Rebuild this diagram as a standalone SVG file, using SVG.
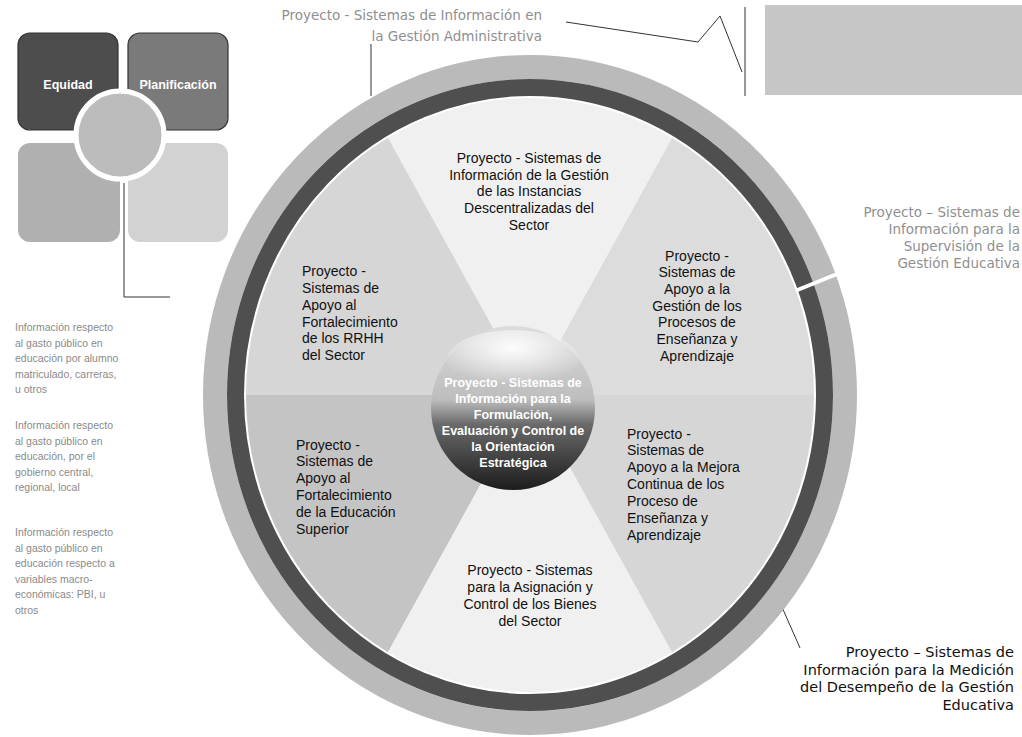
<svg xmlns="http://www.w3.org/2000/svg" width="1022" height="737" viewBox="0 0 1022 737">
<defs>
<style>
.t{font-family:"Liberation Sans",Arial,sans-serif;font-size:14px;fill:#111}
.b{font-family:"DejaVu Sans",Verdana,sans-serif;font-size:14.5px;fill:#111}
.g{font-family:"Liberation Sans",Arial,sans-serif;font-size:10.5px;fill:#8a8a8a}
.gr{font-family:"DejaVu Sans",Verdana,sans-serif;font-size:13.5px;fill:#8f8f8f}
.w{font-family:"Liberation Sans",Arial,sans-serif;font-size:12.5px;font-weight:bold;fill:#fff}
.bx{stroke:#333;stroke-width:1.2}
.ln{stroke:#333;stroke-width:1;fill:none}
</style>
<linearGradient id="sph" x1="0" y1="0" x2="0" y2="1">
<stop offset="0" stop-color="#dcdcdc"/>
<stop offset="0.45" stop-color="#bdbdbd"/>
<stop offset="0.6" stop-color="#6a6a6a"/>
<stop offset="1" stop-color="#1c1c1c"/>
</linearGradient>
<radialGradient id="hl" cx="0.5" cy="0.3" r="0.6">
<stop offset="0" stop-color="#ffffff" stop-opacity="0.95"/>
<stop offset="1" stop-color="#ffffff" stop-opacity="0"/>
</radialGradient>
</defs>
<rect width="1022" height="737" fill="#ffffff"/>

<g id="connectors">
<polyline class="ln" points="566,22 698,42 720,16 742,72"/>
<line class="ln" x1="745" y1="7" x2="745" y2="96"/>
<line class="ln" x1="371" y1="44" x2="371" y2="96"/>
<polyline class="ln" points="124,183 124,297 170,297"/>
<line class="ln" x1="800" y1="648" x2="778" y2="598"/>
</g>

<g id="legend-box">
<rect x="765" y="5" width="257" height="90" fill="#c6c6c6"/>
</g>

<g id="quad">
<rect class="bx" x="18" y="33" width="100" height="97" rx="12" fill="#4d4d4d"/>
<rect class="bx" x="128" y="33" width="100" height="97" rx="12" fill="#7a7a7a"/>
<rect x="18" y="143" width="102" height="99" rx="12" fill="#b0b0b0"/>
<rect x="128" y="143" width="100" height="99" rx="12" fill="#d2d2d2"/>
<circle cx="120" cy="135" r="44" fill="#bcbcbc" stroke="#ffffff" stroke-width="5"/>
<text class="w" x="68" y="89" text-anchor="middle" font-size="13">Equidad</text>
<text class="w" x="178" y="89" text-anchor="middle" font-size="13">Planificación</text>
</g>

<g id="left-notes">
<text class="g" x="15" y="331">Información respecto</text>
<text class="g" x="15" y="346.5">al gasto público en</text>
<text class="g" x="15" y="362">educación por alumno</text>
<text class="g" x="15" y="377.5">matriculado, carreras,</text>
<text class="g" x="15" y="393">u otros</text>
<text class="g" x="15" y="429">Información respecto</text>
<text class="g" x="15" y="444.5">al gasto público en</text>
<text class="g" x="15" y="460">educación, por el</text>
<text class="g" x="15" y="475.5">gobierno central,</text>
<text class="g" x="15" y="491">regional, local</text>
<text class="g" x="15" y="536">Información respecto</text>
<text class="g" x="15" y="551.5">al gasto público en</text>
<text class="g" x="15" y="567">educación respecto a</text>
<text class="g" x="15" y="582.5">variables macro-</text>
<text class="g" x="15" y="598">económicas: PBI, u</text>
<text class="g" x="15" y="613.5">otros</text>
</g>

<g id="top-label">
<text class="gr" x="542" y="20" text-anchor="end">Proyecto - Sistemas de Información en</text>
<text class="gr" x="542" y="41" text-anchor="end">la Gestión Administrativa</text>
</g>

<g id="right-label">
<text class="gr" x="1020" y="217" text-anchor="end">Proyecto – Sistemas de</text>
<text class="gr" x="1020" y="234" text-anchor="end">Información para la</text>
<text class="gr" x="1020" y="251" text-anchor="end">Supervisión de la</text>
<text class="gr" x="1020" y="268" text-anchor="end">Gestión Educativa</text>
</g>

<g id="rings">
<ellipse cx="530" cy="395" rx="315" ry="328" fill="none" stroke="#bababa" stroke-width="24"/>
<ellipse cx="530" cy="395" rx="294.5" ry="307.5" fill="none" stroke="#4f4f4f" stroke-width="17"/>
<line x1="790" y1="293" x2="842" y2="272" stroke="#ffffff" stroke-width="4"/>
</g>

<g id="wedges">
<path id="w-procesos" d="M530,395 L814,395 A284,297 0 0 0 672,137.8 Z" fill="#dcdcdc"/>
<path id="w-instancias" d="M530,395 L672,137.8 A284,297 0 0 0 388,137.8 Z" fill="#f0f0f0"/>
<path id="w-rrhh" d="M530,395 L388,137.8 A284,297 0 0 0 246,395 Z" fill="#d6d6d6"/>
<path id="w-superior" d="M530,395 L246,395 A284,297 0 0 0 388,652.2 Z" fill="#c4c4c4"/>
<path id="w-bienes" d="M530,395 L388,652.2 A284,297 0 0 0 672,652.2 Z" fill="#f0f0f0"/>
<path id="w-mejora" d="M530,395 L672,652.2 A284,297 0 0 0 814,395 Z" fill="#d6d6d6"/>
</g>

<g id="node-instancias">
<text class="t" x="529" y="163" text-anchor="middle">Proyecto - Sistemas de</text>
<text class="t" x="529" y="180" text-anchor="middle">Información de la Gestión</text>
<text class="t" x="529" y="196" text-anchor="middle">de las Instancias</text>
<text class="t" x="529" y="213" text-anchor="middle">Descentralizadas del</text>
<text class="t" x="529" y="230" text-anchor="middle">Sector</text>
</g>

<g id="node-rrhh">
<text class="t" x="302" y="276">Proyecto -</text>
<text class="t" x="302" y="293">Sistemas de</text>
<text class="t" x="302" y="310">Apoyo al</text>
<text class="t" x="302" y="327">Fortalecimiento</text>
<text class="t" x="302" y="343">de los RRHH</text>
<text class="t" x="302" y="360">del Sector</text>
</g>

<g id="node-procesos">
<text class="t" x="697" y="261" text-anchor="middle">Proyecto -</text>
<text class="t" x="697" y="277" text-anchor="middle">Sistemas de</text>
<text class="t" x="697" y="294" text-anchor="middle">Apoyo a la</text>
<text class="t" x="697" y="311" text-anchor="middle">Gestión de los</text>
<text class="t" x="697" y="327" text-anchor="middle">Procesos de</text>
<text class="t" x="697" y="344" text-anchor="middle">Enseñanza y</text>
<text class="t" x="697" y="361" text-anchor="middle">Aprendizaje</text>
</g>

<g id="node-superior">
<text class="t" x="296" y="450">Proyecto -</text>
<text class="t" x="296" y="466">Sistemas de</text>
<text class="t" x="296" y="483">Apoyo al</text>
<text class="t" x="296" y="500">Fortalecimiento</text>
<text class="t" x="296" y="517">de la Educación</text>
<text class="t" x="296" y="534">Superior</text>
</g>

<g id="node-mejora">
<text class="t" x="627" y="439">Proyecto -</text>
<text class="t" x="627" y="455">Sistemas de</text>
<text class="t" x="627" y="472">Apoyo a la Mejora</text>
<text class="t" x="627" y="489">Continua de los</text>
<text class="t" x="627" y="506">Proceso de</text>
<text class="t" x="627" y="523">Enseñanza y</text>
<text class="t" x="627" y="540">Aprendizaje</text>
</g>

<g id="node-bienes">
<text class="t" x="530" y="575" text-anchor="middle">Proyecto - Sistemas</text>
<text class="t" x="530" y="592" text-anchor="middle">para la Asignación y</text>
<text class="t" x="530" y="609" text-anchor="middle">Control de los Bienes</text>
<text class="t" x="530" y="626" text-anchor="middle">del Sector</text>
</g>

<g id="node-center">
<circle cx="513" cy="408" r="82" fill="url(#sph)"/>
<ellipse cx="513" cy="360" rx="66" ry="30" fill="url(#hl)"/>
<text class="w" x="513" y="387" text-anchor="middle">Proyecto - Sistemas de</text>
<text class="w" x="513" y="403" text-anchor="middle">Información para la</text>
<text class="w" x="513" y="419" text-anchor="middle">Formulación,</text>
<text class="w" x="513" y="435" text-anchor="middle">Evaluación y Control de</text>
<text class="w" x="513" y="451" text-anchor="middle">la Orientación</text>
<text class="w" x="513" y="467" text-anchor="middle">Estratégica</text>
</g>

<g id="node-medicion">
<text class="b" x="1014" y="657" text-anchor="end">Proyecto – Sistemas de</text>
<text class="b" x="1014" y="675" text-anchor="end">Información para la Medición</text>
<text class="b" x="1014" y="692" text-anchor="end">del Desempeño de la Gestión</text>
<text class="b" x="1014" y="710" text-anchor="end">Educativa</text>
</g>
</svg>
